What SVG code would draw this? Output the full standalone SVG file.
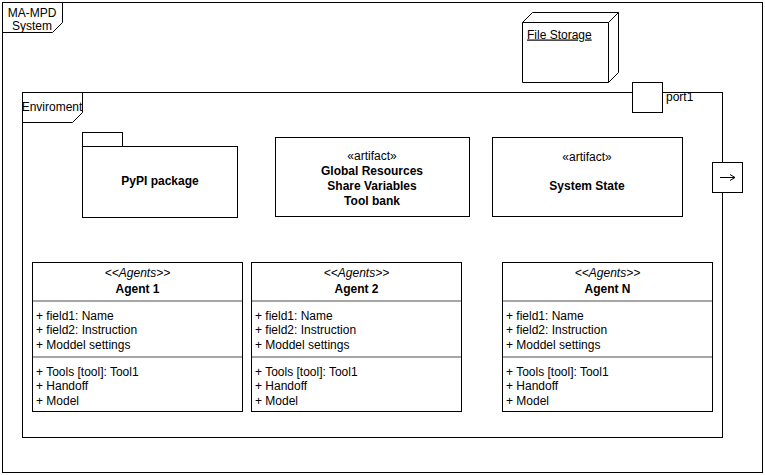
<svg xmlns="http://www.w3.org/2000/svg" width="765" height="475" viewBox="0 0 765 475">
<defs>
<style>
text{font-family:"Liberation Sans",Arial,Helvetica,sans-serif;font-size:12px;fill:#000}
.b{font-weight:bold}
.i{font-style:italic}
.c{text-anchor:middle}
.sh{fill:#fff;stroke:#000;stroke-width:1}
.fr{fill:none;stroke:#000;stroke-width:1}
.dv{stroke:#a6a6a6;stroke-width:2}
</style>
<marker id="ar" markerWidth="8" markerHeight="8" refX="6" refY="4" orient="auto" markerUnits="userSpaceOnUse">
<path d="M1,1 L6,4 L1,7" fill="none" stroke="#000" stroke-width="1"/>
</marker>
</defs>
<rect width="765" height="475" fill="#fff"/>
<g id="system">
<rect class="fr" x="2.5" y="2.5" width="760" height="470"/>
<path class="fr" d="M2.5,32.5 L52.5,32.5 L62.5,22.5 L62.5,2.5"/>
<text class="c" x="32" y="17">MA-MPD</text>
<text class="c" x="32" y="30">System</text>
</g>
<g id="file-storage">
<path class="sh" d="M522.5,82.5 L522.5,22.5 L532.5,12.5 L618.5,12.5 L618.5,72.5 L608.5,82.5 Z"/>
<path class="fr" d="M522.5,22.5 L608.5,22.5 L618.5,12.5 M608.5,22.5 L608.5,82.5"/>
<text x="527" y="38.5" text-decoration="underline">File Storage</text>
</g>
<g id="environment">
<rect class="fr" x="22.5" y="92.5" width="700" height="345"/>
<path class="fr" d="M22.5,122.5 L72.5,122.5 L82.5,112.5 L82.5,92.5"/>
<text class="c" x="52" y="111">Enviroment</text>
</g>
<g id="port1">
<rect class="sh" x="632.5" y="82.5" width="30" height="30"/>
<text x="666" y="101">port1</text>
</g>
<g id="port2">
<rect class="sh" x="712.5" y="162.5" width="30" height="30"/>
</g>
<g id="connectors">
<line x1="720" y1="177.5" x2="735" y2="177.5" stroke="#000" stroke-width="1" marker-end="url(#ar)"/>
</g>
<g id="pypi">
<rect class="sh" x="82.5" y="132.5" width="40" height="14"/>
<rect class="sh" x="82.5" y="146.5" width="155" height="71"/>
<text class="b c" x="160" y="185">PyPI package</text>
</g>
<g id="global-resources">
<rect class="sh" x="275.5" y="137.5" width="194" height="79"/>
<text class="c" x="372" y="160">«artifact»</text>
<text class="b c" x="372" y="175">Global Resources</text>
<text class="b c" x="372" y="190">Share Variables</text>
<text class="b c" x="372" y="205">Tool bank</text>
</g>
<g id="system-state">
<rect class="sh" x="492.5" y="137.5" width="190" height="79"/>
<text class="c" x="587" y="161">«artifact»</text>
<text class="b c" x="587" y="190">System State</text>
</g>
<g id="agent1">
<rect class="sh" x="32.5" y="262.5" width="210" height="149"/>
<line class="dv" x1="33" y1="301" x2="242" y2="301"/>
<line class="dv" x1="33" y1="357" x2="242" y2="357"/>
<text class="i c" x="137.5" y="277">&lt;&lt;Agents&gt;&gt;</text>
<text class="b c" x="137.5" y="293">Agent 1</text>
<text x="36" y="320">+ field1: Name</text>
<text x="36" y="334">+ field2: Instruction</text>
<text x="36" y="349">+ Moddel settings</text>
<text x="36" y="376">+ Tools [tool]: Tool1</text>
<text x="36" y="390">+ Handoff</text>
<text x="36" y="405">+ Model</text>
</g>
<g id="agent2">
<rect class="sh" x="251.5" y="262.5" width="210" height="149"/>
<line class="dv" x1="252" y1="301" x2="461" y2="301"/>
<line class="dv" x1="252" y1="357" x2="461" y2="357"/>
<text class="i c" x="356.5" y="277">&lt;&lt;Agents&gt;&gt;</text>
<text class="b c" x="356.5" y="293">Agent 2</text>
<text x="255" y="320">+ field1: Name</text>
<text x="255" y="334">+ field2: Instruction</text>
<text x="255" y="349">+ Moddel settings</text>
<text x="255" y="376">+ Tools [tool]: Tool1</text>
<text x="255" y="390">+ Handoff</text>
<text x="255" y="405">+ Model</text>
</g>
<g id="agentN">
<rect class="sh" x="502.5" y="262.5" width="210" height="149"/>
<line class="dv" x1="503" y1="301" x2="712" y2="301"/>
<line class="dv" x1="503" y1="357" x2="712" y2="357"/>
<text class="i c" x="607.5" y="277">&lt;&lt;Agents&gt;&gt;</text>
<text class="b c" x="607.5" y="293">Agent N</text>
<text x="506" y="320">+ field1: Name</text>
<text x="506" y="334">+ field2: Instruction</text>
<text x="506" y="349">+ Moddel settings</text>
<text x="506" y="376">+ Tools [tool]: Tool1</text>
<text x="506" y="390">+ Handoff</text>
<text x="506" y="405">+ Model</text>
</g>
</svg>
